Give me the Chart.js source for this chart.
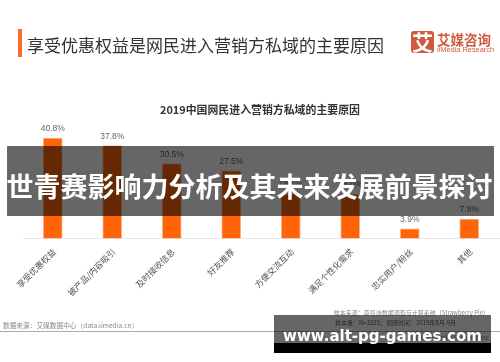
<!DOCTYPE html>
<html><head><meta charset="utf-8">
<script src="https://cdn.jsdelivr.net/npm/chart.js@4"></script>
<style>
html,body{margin:0;padding:0;background:#fff}
body{width:500px;height:362px;position:relative;overflow:hidden;font-family:"Noto Sans CJK SC","Noto Sans",sans-serif}
#wrap{position:absolute;left:0;top:0;width:500px;height:362px;filter:blur(0.4px)}
canvas{position:absolute;left:0;top:0}
.t{position:absolute;white-space:nowrap;line-height:1}
.b{position:absolute}
</style></head><body>
<div id="wrap">
<canvas id="c" width="500" height="362"></canvas>
<div class="b" style="left:18px;top:29px;width:4px;height:28px;background:#ff6a2a"></div>
<div class="t" id="head" style="left:27px;top:36px;font-size:17px;color:#333">享受优惠权益是网民进入营销方私域的主要原因</div>
<div class="b" style="left:411px;top:31px;width:23px;height:22px;border-radius:3px;background:#d05a3c"></div>
<div class="t" style="left:412px;top:31px;font-size:21px;font-weight:700;color:#fff">艾</div>
<div class="t" style="left:437px;top:33px;font-size:13.5px;font-weight:700;color:#d05a3c">艾媒咨询</div>
<div class="t" style="left:437px;top:46px;font-size:7.4px;color:#d05a3c;font-family:'Liberation Sans'">iiMedia Research</div>
<div class="t" style="left:160px;top:104px;font-size:10.9px;font-weight:700;color:#333">2019中国网民进入营销方私域的主要原因</div>
<div class="t" style="left:3px;top:322px;font-size:6.7px;color:#888">数据来源：艾媒数据中心（data.iimedia.cn）</div>
<div class="t" style="right:11px;top:310px;font-size:6px;color:#888">样本来源：草莓派数据调查与计算系统（Strawberry Pie）</div>
<div class="t" style="left:335px;top:320px;font-size:6px;color:#666">样本量：N=1525；调研时间：2019年8月-9月</div>
<div class="b" style="left:0;top:331px;width:500px;height:1px;background:#aaa"></div>
<div class="t" style="right:11px;top:335px;font-size:6px;color:#888">©2019.9 iiMedia Research Inc</div>
<div class="b" style="left:7px;top:146px;width:487px;height:70px;background:rgba(0,0,0,.6)"></div>
<div class="t" style="left:6px;top:172px;width:487px;text-align:center;font-size:27px;font-weight:700;color:#fff">世青赛影响力分析及其未来发展前景探讨</div>
<div class="b" style="left:274px;top:315px;width:217px;height:28px;background:rgba(0,0,0,.6)"></div>
<div class="b" style="left:274px;top:343px;width:217px;height:10px;background:#000"></div>
<div class="t" style="left:274px;top:329px;width:217px;text-align:center;font-size:15px;font-weight:700;color:#fff;font-family:'DejaVu Sans'">www.alt-pg-games.com</div>
</div>
<script>
const categories=["享受优惠权益","被产品/内容吸引","及时接收信息","好友推荐","方便交流互动","满足个性化需求","忠实用户/粉丝","其他"];
const shares=[40.8,37.8,30.5,27.5,18.1,18.0,3.9,7.9];
const valueLabels=shares.map(v=>v.toFixed(1)+"%");
const labelPlugin={id:"valueLabels",afterDatasetsDraw(chart){
  const ctx=chart.ctx;ctx.save();
  ctx.font='8.5px "Liberation Sans","Noto Sans",sans-serif';ctx.fillStyle="#666";ctx.textAlign="center";ctx.textBaseline="bottom";
  chart.getDatasetMeta(0).data.forEach((bar,i)=>ctx.fillText(valueLabels[i],bar.x,bar.y-5));
  ctx.restore();
}};
new Chart(document.getElementById("c"),{
  type:"bar",
  data:{labels:categories,datasets:[{data:shares,backgroundColor:"#ff6508",borderColor:"#ffb48c",borderWidth:1,barThickness:19}]},
  options:{
    responsive:false,animation:false,
    layout:{padding:{top:115.5,left:23,right:1,bottom:0}},
    plugins:{legend:{display:false},title:{display:false},tooltip:{enabled:false}},
    scales:{
      y:{display:false,min:0,max:50},
      x:{
        afterFit(a){a.height=123.5;},
        grid:{display:false},
        border:{color:"#e6e6e6",width:1},
        ticks:{color:"#555",font:{size:8.5,family:'"Noto Sans CJK SC"'},minRotation:45,maxRotation:45,padding:0,labelOffset:1.5,autoSkip:false}
      }
    }
  },
  plugins:[labelPlugin]
});
</script>
</body></html>
